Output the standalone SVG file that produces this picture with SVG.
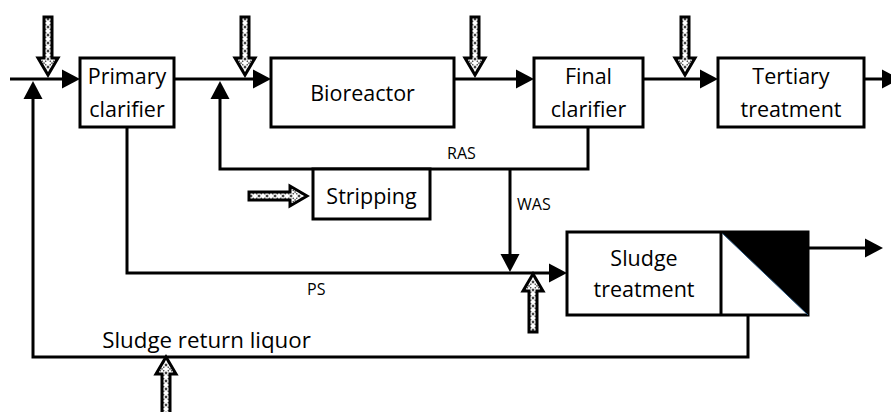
<svg xmlns="http://www.w3.org/2000/svg" width="891" height="412" viewBox="0 0 891 412">
<style>
.box{fill:#fff;stroke:#000;stroke-width:3}
.ln{fill:none;stroke:#000;stroke-width:3}
.arr{marker-end:url(#ah)}
.t{font-family:"Open Sans","Noto Sans",sans-serif;font-size:21.5px;fill:#000;text-anchor:middle}
.s{font-family:"Open Sans","Noto Sans",sans-serif;font-size:16px;fill:#000}
.hol{fill:url(#dots);stroke:#000;stroke-width:3;stroke-linejoin:miter}
</style>
<defs>
<marker id="ah" markerUnits="userSpaceOnUse" markerWidth="18" markerHeight="19" refX="14" refY="9.5" orient="auto" overflow="visible">
<path d="M0,0 L18,9.5 L0,19 Z" fill="#000"/>
</marker>
<pattern id="dots" patternUnits="userSpaceOnUse" width="8" height="8">
<rect width="8" height="8" fill="#fff"/>
<path d="M0,0 L8,8 M8,0 L0,8" stroke="#444" stroke-width="1.3" stroke-dasharray="1.5,1"/>
</pattern>
<path id="hd" class="hol" d="M-4,-58 H4 V-17 H10 L0,0 L-10,-17 H-4 Z"/>
</defs>

<g id="connectors">
<path class="ln arr" d="M10,79 H76"/>
<path class="ln arr" d="M174,79 H267"/>
<path class="ln arr" d="M454,79 H530"/>
<path class="ln arr" d="M643,79 H714"/>
<path class="ln arr" d="M864,79 H896"/>
<path class="ln arr" d="M588,127 V169 H220 V85"/>
<path class="ln arr" d="M510,169 V268"/>
<path class="ln arr" d="M127,127 V273 H563"/>
<path class="ln arr" d="M808,248 H879"/>
<path class="ln arr" d="M748,315 V357 H33 V85"/>
</g>

<g id="inputs">
<use href="#hd" transform="translate(48,75)"/>
<use href="#hd" transform="translate(245,75)"/>
<use href="#hd" transform="translate(475,75)"/>
<use href="#hd" transform="translate(685,75)"/>
<use href="#hd" transform="translate(307,196) rotate(-90)"/>
<use href="#hd" transform="translate(533,274) rotate(180)"/>
<use href="#hd" transform="translate(166,357) rotate(180)"/>
</g>

<g id="primary">
<rect class="box" x="80" y="58" width="94" height="69"/>
<text class="t" x="127" y="84">Primary</text>
<text class="t" x="127" y="116.5">clarifier</text>
</g>
<g id="bioreactor">
<rect class="box" x="271" y="58" width="183" height="69"/>
<text class="t" x="362.5" y="100.5">Bioreactor</text>
</g>
<g id="final">
<rect class="box" x="534" y="58" width="109" height="69"/>
<text class="t" x="588.5" y="84">Final</text>
<text class="t" x="588.5" y="116.5">clarifier</text>
</g>
<g id="tertiary">
<rect class="box" x="718" y="58" width="146" height="69"/>
<text class="t" x="791" y="84">Tertiary</text>
<text class="t" x="791" y="116.5">treatment</text>
</g>
<g id="stripping">
<rect class="box" x="313" y="169" width="117" height="50"/>
<text class="t" x="371.5" y="204">Stripping</text>
</g>
<g id="sludge">
<rect class="box" x="567" y="232" width="241" height="83"/>
<path d="M721,232 H808 V315 Z" fill="#000"/>
<path d="M721,232 L808,315" stroke="#1f4e79" stroke-width="1" fill="none"/>
<line x1="721" y1="232" x2="721" y2="315" stroke="#000" stroke-width="3"/>
<text class="t" x="644" y="266">Sludge</text>
<text class="t" x="644" y="297">treatment</text>
</g>

<g id="labels">
<text class="s" x="447" y="159">RAS</text>
<text class="s" x="517" y="210">WAS</text>
<text class="s" x="307" y="295">PS</text>
<text class="t" x="206.5" y="348" style="font-size:22.3px">Sludge return liquor</text>
</g>
</svg>
